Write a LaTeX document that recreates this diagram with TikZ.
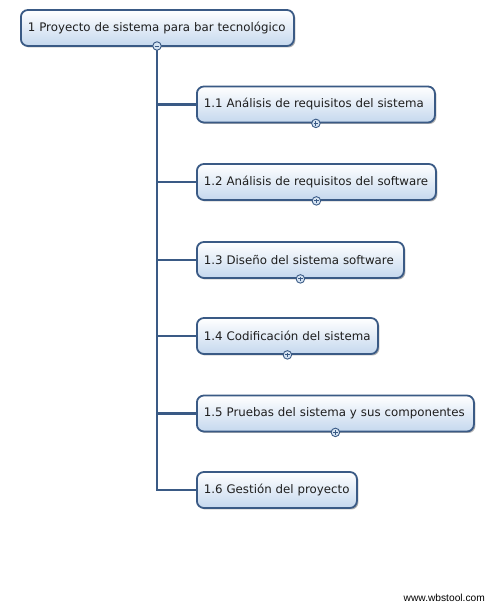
\documentclass[tikz,border=0pt]{standalone}
\usepackage{fontspec}
\setmainfont{DejaVu Sans}
\newfontfamily\wmfont{Liberation Sans}
\usetikzlibrary{shadows}
\definecolor{edge}{HTML}{3A5A85}
\definecolor{boxbot}{HTML}{C5D8EE}
\definecolor{txt}{HTML}{1E1E1E}
\tikzset{
  wbox/.style={draw=edge, line width=1.8pt, rounded corners=7pt,
    top color=white, bottom color=boxbot,
    drop shadow={shadow xshift=1.5pt, shadow yshift=-1.5pt, opacity=0.3, fill=black},
    minimum height=36pt, inner xsep=7pt, inner ysep=0pt, anchor=west,
    font=\fontsize{11.8}{14}\selectfont, text=txt, align=left},
  conn/.style={draw=edge, line width=2.6pt},
  toggle/.style={circle, draw=edge, line width=0.9pt, fill=boxbot!70!white,
    minimum size=8.5pt, inner sep=0pt},
  plustoggle/.style={toggle, path picture={
      \draw[edge, line width=0.9pt] ([xshift=-2.3pt]path picture bounding box.center) -- ([xshift=2.3pt]path picture bounding box.center)
        ([yshift=-2.3pt]path picture bounding box.center) -- ([yshift=2.3pt]path picture bounding box.center);}},
  minustoggle/.style={toggle, path picture={
      \draw[edge, line width=0.9pt] ([xshift=-2.3pt]path picture bounding box.center) -- ([xshift=2.3pt]path picture bounding box.center);}},
}
\begin{document}
\begin{tikzpicture}[x=1pt, y=1pt]
  \useasboundingbox[fill=white] (0,0) rectangle (492,606);

  \node[wbox, text width=259pt] (root) at (20,578) {1 Proyecto de sistema para bar tecnológico};
  \node[wbox, text width=224pt] (n1) at (196,501.5) {1.1 Análisis de requisitos del sistema};
  \node[wbox, text width=225pt] (n2) at (196,424) {1.2 Análisis de requisitos del software};
  \node[wbox, text width=193pt] (n3) at (196,346) {1.3 Diseño del sistema software};
  \node[wbox, text width=167pt] (n4) at (196,270) {1.4 Codificación del sistema};
  \node[wbox, text width=263pt] (n5) at (196,192.5) {1.5 Pruebas del sistema y sus componentes};
  \node[wbox, text width=146pt] (n6) at (196,116) {1.6 Gestión del proyecto};

  \coordinate (trunk) at (157,560);
  \draw[conn] (trunk) |- (n6.west);
  \foreach \n in {n1,n2,n3,n4,n5}
    \draw[conn] (trunk |- \n.west) -- (\n.west);

  \node[minustoggle] (t0) at (trunk) {};
  \foreach \n in {n1,n2,n3,n4,n5}
    \node[plustoggle] (t\n) at (\n.south) {};

  \node[anchor=east, font=\wmfont\fontsize{10.2}{12}\selectfont, text=black, inner sep=0pt] (wm) at (485,8) {www.wbstool.com};
\end{tikzpicture}
\end{document}
